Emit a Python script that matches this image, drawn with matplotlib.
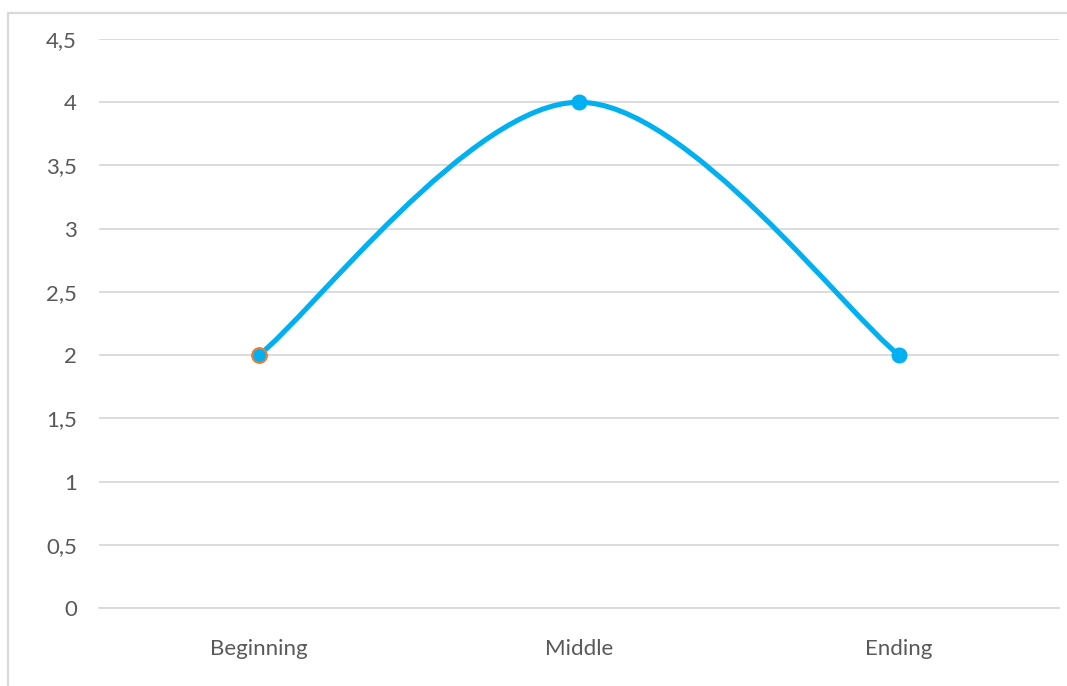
import numpy as np
import matplotlib.pyplot as plt
from matplotlib.path import Path
from matplotlib.patches import PathPatch, Rectangle
from matplotlib.ticker import FuncFormatter

plt.rcParams['font.family'] = ['Lato', 'DejaVu Sans']

categories = ['Beginning', 'Middle', 'Ending']
values = [2, 4, 2]
yticks = [0, 0.5, 1, 1.5, 2, 2.5, 3, 3.5, 4, 4.5]

line_col = '#00B0F0'
text_col = '#595959'
grid_col = '#D9D9D9'

W, H = 1067, 686
fig = plt.figure(figsize=(W / 100, H / 100), dpi=100)
ax = fig.add_axes([99 / W, 1 - 608 / H, 960 / W, (608 - 39) / H])

# outer chart frame (only top/left visible, rest cropped)
fig.patches.append(Rectangle((8 / W, -0.1), 1.2, 1 - 13 / H + 0.1, transform=fig.transFigure,
                             fill=False, edgecolor=grid_col, linewidth=1.6))

x = np.arange(len(categories))
y = np.array(values, dtype=float)

# Excel-style smoothed line: cubic Bezier segments, tension 1/6
pts = np.column_stack([x, y])
verts = [pts[0]]
codes = [Path.MOVETO]
n = len(pts)
for i in range(n - 1):
    p0 = pts[max(i - 1, 0)]
    p1 = pts[i]
    p2 = pts[i + 1]
    p3 = pts[min(i + 2, n - 1)]
    c1 = p1 + (p2 - p0) / 6
    c2 = p2 - (p3 - p1) / 6
    verts += [c1, c2, p2]
    codes += [Path.CURVE4] * 3
ax.add_patch(PathPatch(Path(verts, codes), fill=False, edgecolor=line_col,
                       linewidth=3.7, capstyle='round', joinstyle='round', zorder=3))

ax.plot(x, y, linestyle='none', marker='o', markersize=10.5,
        markerfacecolor=line_col, markeredgecolor=line_col, zorder=4)
ax.plot(x[:1], y[:1], linestyle='none', marker='o', markersize=10.5,
        markerfacecolor=line_col, markeredgecolor='#ED7D31', markeredgewidth=1.5, zorder=5)

ax.set_xlim(-0.5, len(categories) - 0.5)
ax.set_ylim(0, 4.5)
ax.set_xticks(x)
ax.set_xticklabels(categories)
ax.set_yticks(yticks)
ax.yaxis.set_major_formatter(FuncFormatter(lambda v, p: ('%g' % v).replace('.', ',')))
ax.grid(axis='y', color=grid_col, linewidth=1.3)
ax.set_axisbelow(True)
for s in ax.spines.values():
    s.set_visible(False)
ax.spines['bottom'].set_visible(True)
ax.spines['bottom'].set_color(grid_col)
ax.spines['bottom'].set_linewidth(1.3)
ax.tick_params(axis='both', length=0, labelsize=16, colors=text_col)
ax.tick_params(axis='y', pad=16)
ax.tick_params(axis='x', pad=22.5)

fig.savefig('out.png', dpi=100)
